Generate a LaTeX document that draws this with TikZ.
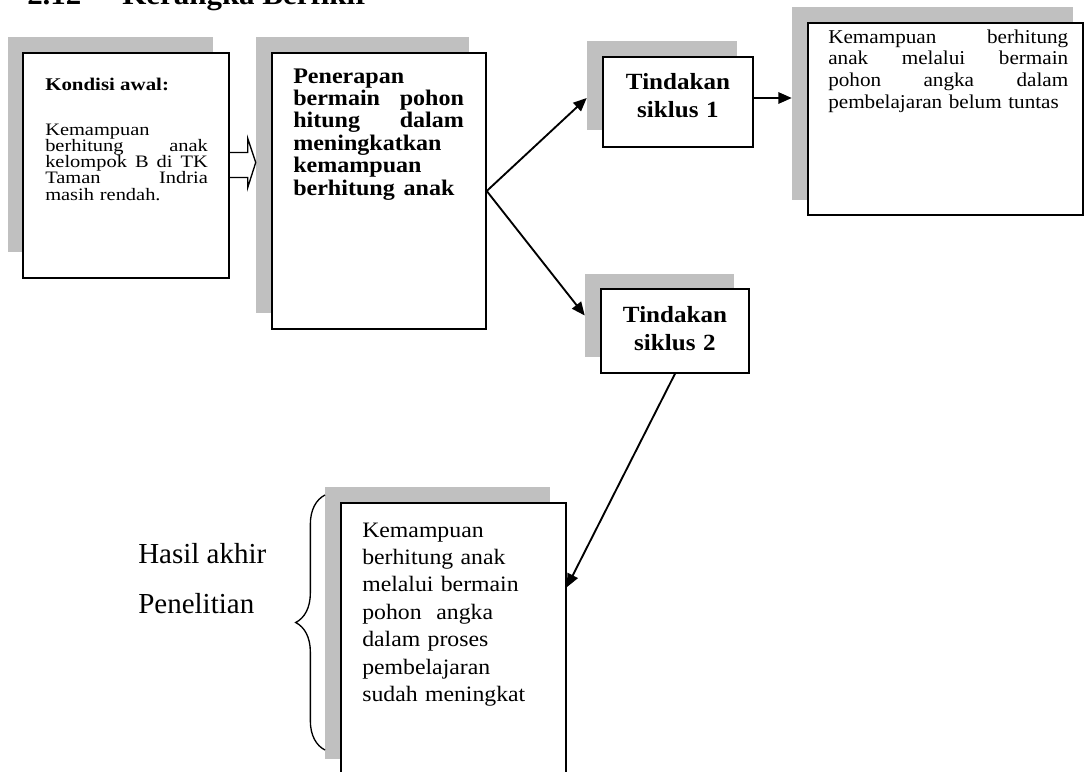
\documentclass[tikz,border=0pt]{standalone}
\usepackage{fontspec}
\setmainfont{Liberation Serif}
\newfontfamily\tnr[FakeStretch=1.08]{Liberation Serif}
\newfontfamily\tnrw[FakeStretch=1.17]{Liberation Serif}
\usetikzlibrary{arrows.meta,calc,fit,decorations.pathreplacing}
\definecolor{shadowgray}{RGB}{192,192,192}
\newcommand\jline[2]{{\spaceskip=0pt\xspaceskip=0pt\makebox[#1][s]{#2}}}
\newcommand\tightls{\lineskiplimit=-100pt\relax}
\lineskiplimit=-100pt
\tikzset{
  shadowbox/.style={fill=shadowgray, draw=none, inner sep=0pt},
  framebox/.style={draw=black, line width=1.1pt, fill=white, inner sep=0pt},
  conn/.style={line width=1.4pt, -{Triangle[length=10pt,width=8.5pt]}},
  hollow/.style={line width=1pt},
  txt/.style={inner sep=0pt, anchor=base west, align=left},
  ctxt/.style={inner sep=0pt, anchor=base, align=center, text width=110pt},
}
\begin{document}
\begin{tikzpicture}[x=0.75pt,y=-0.75pt]
\useasboundingbox (0,0) rectangle (1085,771);
\clip (0,0) rectangle (1085,771);
\fill[white] (0,0) rectangle (1085,771);

% title (cut at top)
\node[txt, font=\tnr\bfseries\fontsize{21.5}{25}\selectfont] (num) at (27,4) {2.12};
\node[txt, font=\tnr\bfseries\fontsize{21.5}{25}\selectfont] (ttl) at (122,4) {Kerangka Berfikir};

% shadows
\node[shadowbox, fit={(8,37) (213,252)}] (s1) {};
\node[shadowbox, fit={(256,37) (469,313)}] (s2) {};
\node[shadowbox, fit={(587,41) (737,130)}] (s3) {};
\node[shadowbox, fit={(585,274) (734,357)}] (s4) {};
\node[shadowbox, fit={(792,7) (1073,200)}] (s5) {};
\node[shadowbox, fit={(325,487) (550,759)}] (s6) {};

% boxes
\node[framebox, fit={(23,53) (229,278)}] (b1) {};
\node[framebox, fit={(272,53) (486,329)}] (b2) {};
\node[framebox, fit={(603,57) (753,147)}] (t1) {};
\node[framebox, fit={(601,289) (749,373)}] (t2) {};
\node[framebox, fit={(808,23) (1083,215)}] (b5) {};
\node[framebox, fit={(341,503) (566,820)}] (b6) {};

% texts
\node[txt, font=\tnrw\bfseries\fontsize{13.4}{12.2}\selectfont] (k1h) at (45,90) {Kondisi awal:};
\node[txt, text width=122pt, font=\tnrw\fontsize{13.1}{12.2}\selectfont\tightls] (k1) at (45,135)
  {Kemampuan\\ \jline{122pt}{berhitung anak}\\ \jline{122pt}{kelompok B di TK}\\ \jline{122pt}{Taman Indria}\\ masih rendah.};
\node[txt, text width=128pt, font=\tnr\bfseries\fontsize{16.7}{16.8}\selectfont\tightls] (k2) at (293,83)
  {Penerapan\\ \jline{128pt}{bermain pohon}\\ \jline{128pt}{hitung dalam}\\ meningkatkan\\ kemampuan\\ berhitung\hspace{0.4em}anak};
\node[ctxt, font=\tnr\bfseries\fontsize{17.4}{21.5}\selectfont] (tt1) at ($(t1.north)+(0,33)$) {Tindakan\\ siklus 1};
\node[ctxt, font=\tnr\bfseries\fontsize{17.4}{21.5}\selectfont] (tt2) at ($(t2.north)+(0,34)$) {Tindakan\\ siklus 2};
\node[txt, text width=180pt, font=\tnr\fontsize{14.7}{16.35}\selectfont\tightls] (k5) at (828,43)
  {\jline{180pt}{Kemampuan berhitung}\\ \jline{180pt}{anak melalui bermain}\\ \jline{180pt}{pohon angka dalam}\\ pembelajaran belum tuntas};
\node[txt, text width=150pt, font=\tnr\fontsize{16.5}{20.6}\selectfont] (k6) at (362,537)
  {Kemampuan\\ berhitung anak\\ melalui bermain\\ pohon~~angka\\ dalam proses\\ pembelajaran\\ sudah meningkat};
\node[txt, font=\fontsize{21.75}{26}\selectfont] (h1) at (138,563) {Hasil akhir};
\node[txt, font=\fontsize{21.75}{26}\selectfont] (h2) at (138,613) {Penelitian};

% brace
\draw[line width=1pt, decorate, decoration={brace, amplitude=22pt}] (325,750) -- (325,495);

% hollow arrow
\draw[hollow] ($(b1.east)+(0,-13)$) -- ($(b1.east)+(18,-13)$) -- ($(b1.east)+(18,-27)$)
  -- ($(s2.west |- b1.east)+(0,-3)$) -- ($(b1.east)+(18,22)$) -- ($(b1.east)+(18,12)$) -- ($(b1.east)+(0,12)$);

% connectors
\draw[conn] (b2.east) -- ($(t1.west -| s3.west)+(0,-4)$);
\draw[conn] (b2.east) -- (s4.west);
\draw[conn] ($(t1.east)+(0,-4)$) -- ($(t1.east -| s5.west)+(0,-4)$);
\draw[conn] (t2.south) -- ($(b6.north east)+(0,85)$);
\end{tikzpicture}
\end{document}
